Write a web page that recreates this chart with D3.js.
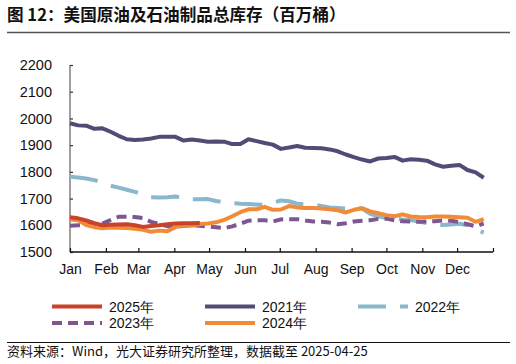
<!DOCTYPE html>
<html>
<head>
<meta charset="utf-8">
<script src="https://cdn.jsdelivr.net/npm/d3@7"></script>
<style>
  html, body { margin: 0; padding: 0; background: #fff; }
  svg { display: block; }
</style>
</head>
<body>
<svg id="chart" width="516" height="364"></svg>
<script>
// ---------------- DATA ----------------
const monthLabels = ["Jan","Feb","Mar","Apr","May","Jun","Jul","Aug","Sep","Oct","Nov","Dec"];
const yTicks = [1500,1600,1700,1800,1900,2000,2100,2200];

const s2021 = [1982,1974,1973,1961,1963,1950,1935,1922,1919,1921,1925,1931,1931,1931,1917,1921,1917,1913,1914,1913,1904,1904,1922,1915,1908,1902,1886,1891,1897,1890,1889,1888,1884,1877,1865,1855,1846,1839,1850,1852,1856,1842,1847,1845,1842,1828,1819,1823,1826,1807,1798,1778];
const s2022 = [1782,1779,1775,1769,1760,1748,1741,1733,1725,1716,1705,1704,1705,1708,1701,1697,1697,1698,1691,1686,1683,1681,1680,1678,1676,1684,1693,1690,1681,1678,1678,1672,1667,1665,1663,1664,1663,1643,1634,1627,1625,1622,1620,1614,1608,1601,1601,1603,1606,1600,1584,1573];
const s2023 = [1598,1600,1601,1603,1606,1620,1632,1632,1631,1627,1613,1605,1597,1594,1598,1600,1598,1596,1593,1589,1596,1606,1617,1619,1619,1614,1622,1623,1623,1618,1614,1613,1610,1604,1608,1614,1617,1619,1624,1625,1619,1615,1614,1613,1614,1615,1618,1617,1612,1604,1596,1607];
const s2024 = [1622,1619,1601,1593,1589,1592,1591,1590,1587,1583,1576,1580,1578,1593,1600,1598,1605,1607,1611,1620,1634,1649,1660,1660,1669,1658,1659,1672,1667,1665,1665,1663,1660,1656,1648,1658,1664,1652,1645,1638,1634,1641,1633,1631,1630,1633,1633,1632,1630,1628,1613,1623];
const s2025 = [1630,1626,1618,1608,1600,1602,1603,1604,1600,1594,1597,1600,1604,1607,1608,1608,1609];

const seriesNames = ["2025年","2021年","2022年","2023年","2024年"];
const seriesColors = ["#c9432b","#514c76","#8ab7cd","#7e5792","#f28b37"];
const seriesDash = [null, null, "28,14", "10,6", null];
const seriesValues = [s2025, s2021, s2022, s2023, s2024];

// ---------------- CHART ----------------
const svg = d3.select("#chart");
const cjk = "'Noto Sans CJK SC', 'Noto Sans', sans-serif";
const latin = "'Liberation Sans', Arial, sans-serif";

// Title
svg.append("text")
  .attr("x", 7).attr("y", 21)
  .attr("font-family", cjk).attr("font-weight", "bold").attr("font-size", 16.6)
  .attr("fill", "#111")
  .text("图 12：美国原油及石油制品总库存（百万桶）");
svg.append("line")
  .attr("x1", 7).attr("x2", 510).attr("y1", 32.5).attr("y2", 32.5)
  .attr("stroke", "#555").attr("stroke-width", 1.5);

// Scales
const start = new Date(2021, 0, 1), end = new Date(2022, 0, 1);
const x = d3.scaleTime().domain([start, end]).range([70, 493]);
const y = d3.scaleLinear().domain([1500, 2200]).range([252, 65]);
const weekDate = i => d3.timeDay.offset(start, i * 7);

// Y axis
const yAxis = d3.axisLeft(y).tickValues(yTicks).tickSize(-3).tickPadding(18).tickFormat(d3.format("d"));
const gy = svg.append("g").attr("transform", "translate(70,0)").call(yAxis);
gy.select(".domain").attr("stroke", "#7f7f7f").attr("stroke-width", 1.5).attr("d", "M0,65V252");
gy.selectAll(".tick line").attr("stroke", "#333").attr("stroke-width", 1.2);
gy.selectAll(".tick text").attr("font-family", latin).attr("font-size", 14.5).attr("fill", "#111");

// X axis
const monthTicks = d3.timeMonth.range(start, d3.timeDay.offset(end, 1));
const xAxis = d3.axisBottom(x).tickValues(monthTicks).tickSize(-4).tickPadding(12)
  .tickFormat((d, i) => i < 12 ? monthLabels[i] : "");
const gx = svg.append("g").attr("transform", "translate(0,252)").call(xAxis);
gx.select(".domain").attr("stroke", "#111").attr("stroke-width", 1.5).attr("d", "M70,0H493");
gx.selectAll(".tick line").attr("stroke", "#111").attr("stroke-width", 1.2);
gx.selectAll(".tick text").attr("font-family", latin).attr("font-size", 14).attr("fill", "#111");

// Lines
const line = d3.line().x((d, i) => x(weekDate(i))).y(d => y(d)).curve(d3.curveLinear);
const drawOrder = [1, 2, 3, 4, 0];
drawOrder.forEach(k => {
  svg.append("path")
    .datum(seriesValues[k])
    .attr("d", line)
    .attr("fill", "none")
    .attr("stroke", seriesColors[k])
    .attr("stroke-width", 4)
    .attr("stroke-linejoin", "round")
    .attr("stroke-dasharray", seriesDash[k]);
});

// Legend
const legendPos = [[52, 306.5], [205, 306.5], [358, 306.5], [52, 323], [205, 323]];
seriesNames.forEach((name, k) => {
  const [lx, ly] = legendPos[k];
  svg.append("line")
    .attr("x1", lx).attr("x2", lx + 50).attr("y1", ly).attr("y2", ly)
    .attr("stroke", seriesColors[k]).attr("stroke-width", 4)
    .attr("stroke-dasharray", seriesDash[k]);
  svg.append("text")
    .attr("x", lx + 57).attr("y", ly + 5)
    .attr("font-family", latin).attr("font-size", 14).attr("fill", "#111")
    .text(name);
});

// Footer
svg.append("line")
  .attr("x1", 7).attr("x2", 510).attr("y1", 342.5).attr("y2", 342.5)
  .attr("stroke", "#111").attr("stroke-width", 1);
svg.append("text")
  .attr("x", 7).attr("y", 356)
  .attr("font-family", cjk).attr("font-size", 13).attr("fill", "#111")
  .text("资料来源：Wind，光大证券研究所整理，数据截至 2025-04-25");
</script>
</body>
</html>
